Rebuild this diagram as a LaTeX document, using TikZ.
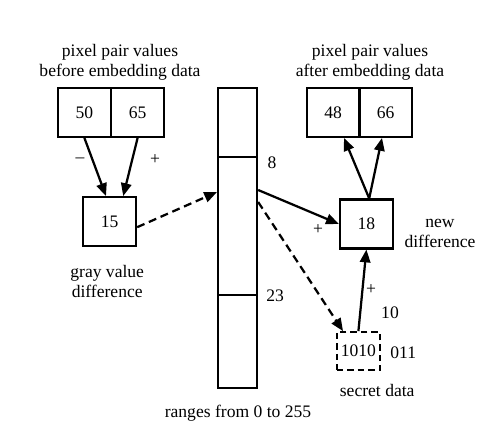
\documentclass[tikz,border=0pt]{standalone}
\usepackage{fontspec}
\setmainfont{Liberation Serif}
\usetikzlibrary{arrows.meta}

\tikzset{
  cell/.style={draw, rectangle, line width=1.5pt, minimum width=1.325cm, minimum height=1.225cm, inner sep=0pt},
  seg/.style={draw, rectangle, line width=1.5pt, minimum width=0.975cm, inner sep=0pt},
  lbl/.style={align=center, inner sep=0pt},
  arr/.style={line width=1.6pt, -{Triangle[length=0.32cm,width=0.26cm]}},
  darr/.style={arr, dash pattern=on 0.2cm off 0.12cm},
}

\begin{document}
\begin{tikzpicture}[font=\fontsize{12.5}{14.5}\selectfont]
  \useasboundingbox (0,0) rectangle (12.55,-11.125);
  % pixel pair before
  \node[cell] (v50) at (2.11,-2.81) {50};
  \node[cell] (v65) at (3.44,-2.81) {65};
  \node[lbl] (before) at (3.00,-1.55) {pixel pair values\\before embedding data};
  % pixel pair after
  \node[cell] (v48) at (8.33,-2.81) {48};
  \node[cell] (v66) at (9.64,-2.81) {66};
  \node[lbl] (after) at (9.25,-1.55) {pixel pair values\\after embedding data};
  % differences
  \node[cell] (diff) at (2.74,-5.54) {15};
  \node[lbl] (difflbl) at (2.68,-7.03) {gray value\\difference};
  \node[cell] (new) at (9.16,-5.60) {18};
  \node[lbl] (newlbl) at (11.00,-5.83) {new\\difference};
  % range table
  \node[seg, minimum height=1.725cm] (top) at (5.94,-3.06) {};
  \node[seg, minimum height=3.45cm] (mid) at (5.94,-5.65) {};
  \node[seg, minimum height=2.325cm] (low) at (5.94,-8.54) {};
  \node[lbl] (r8) at (6.80,-4.08) {8};
  \node[lbl] (r23) at (6.88,-7.40) {23};
  \node[lbl] (range) at (5.95,-10.33) {ranges from 0 to 255};
  % secret data
  \node[draw, rectangle, line width=1.5pt, dash pattern=on 0.16cm off 0.1cm, minimum width=1.075cm, minimum height=0.95cm, inner sep=0pt] (sec) at (8.96,-8.78) {1010};
  \node[lbl] (rest) at (10.08,-8.83) {011};
  \node[lbl] (seclbl) at (9.43,-9.75) {secret data};
  \node[lbl] (ten) at (9.75,-7.83) {10};
  % signs
  \node[lbl] (minus) at (2.00,-4.00) {–};
  \node[lbl] (plusa) at (3.88,-4.00) {+};
  \node[lbl] (plusb) at (7.95,-5.75) {+};
  \node[lbl] (plusc) at (9.28,-7.23) {+};
  % connectors
  \draw[arr] (v50.south) -- ([xshift=-0.09cm]diff.north);
  \draw[arr] (v65.south) -- ([xshift=0.34cm]diff.north);
  \draw[darr] ([yshift=-0.14cm]diff.east) -- ([yshift=0.85cm]mid.west);
  \draw[arr] ([yshift=0.9cm]mid.east) -- (new.west);
  \draw[darr] ([yshift=0.6cm]mid.east) -- ([xshift=0.18cm]sec.north west);
  \draw[arr] (sec.north) -- (new.south);
  \draw[arr] ([xshift=0.07cm]new.north) -- ([xshift=0.27cm]v48.south);
  \draw[arr] ([xshift=0.07cm]new.north) -- ([xshift=-0.09cm]v66.south);
\end{tikzpicture}
\end{document}
